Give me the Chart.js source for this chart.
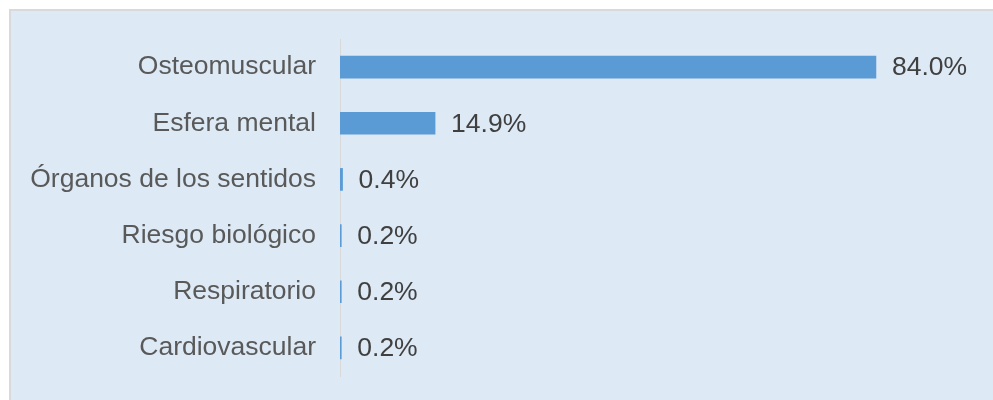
<!DOCTYPE html>
<html lang="es">

<head>
    <meta charset="UTF-8">
    <title>Sistemas</title>
    <script src="https://cdn.jsdelivr.net/npm/chart.js"></script>
    <style>
        body { margin: 0; background: #fff; width: 993px; height: 400px; overflow: hidden; position: relative; }
        #caja { position: absolute; left: 9px; top: 9px; width: 1000px; height: 420px; border: 2px solid #d9d9d9; background: #dde9f5; }
        #Grafico { position: absolute; left: 0; top: 0; width: 993px; height: 400px; }
    </style>
</head>

<body>
    <div id="caja"></div>
    <canvas id="Grafico" width="993" height="400"></canvas>

<script>
    // Datos del gráfico
    var categorias = ['Osteomuscular', 'Esfera mental', 'Órganos de los sentidos', 'Riesgo biológico', 'Respiratorio', 'Cardiovascular'];
    var porcentajes = [84.0, 14.9, 0.4, 0.2, 0.2, 0.2];

    // Etiquetas al final de cada barra
    var etiquetas = {
        id: 'etiquetas',
        afterDatasetsDraw: function (chart) {
            var ctx = chart.ctx;
            var meta = chart.getDatasetMeta(0);
            ctx.save();
            ctx.font = '26.5px "Liberation Sans", Arial, sans-serif';
            ctx.fillStyle = '#404040';
            ctx.textAlign = 'left';
            ctx.textBaseline = 'middle';
            meta.data.forEach(function (bar, i) {
                ctx.fillText(porcentajes[i].toFixed(1) + '%', bar.x + 16, bar.y + 1);
            });
            ctx.restore();
        }
    };

    var ctx = document.getElementById('Grafico').getContext('2d');
    var meuGrafico = new Chart(ctx, {
        type: 'bar',
        data: {
            labels: categorias,
            datasets: [{
                data: porcentajes,
                backgroundColor: '#5b9bd5',
                barThickness: 22
            }]
        },
        options: {
            indexAxis: 'y',
            responsive: false,
            animation: false,
            layout: { padding: { top: 39, bottom: 24, right: 15, left: 0 } },
            plugins: { legend: { display: false }, tooltip: { enabled: false } },
            scales: {
                x: { display: false, min: 0, max: 100 },
                y: {
                    z: 1,
                    afterFit: function (s) { s.width = 340; s.paddingTop = 0; s.paddingBottom = 0; },
                    grid: { display: false, drawTicks: false },
                    border: { display: true, color: '#d9d9d9', width: 1 },
                    ticks: {
                        padding: 24,
                        color: '#595959',
                        font: { family: '"Liberation Sans", Arial, sans-serif', size: 26.5 }
                    }
                }
            }
        },
        plugins: [etiquetas]
    });
</script>
</body>

</html>
